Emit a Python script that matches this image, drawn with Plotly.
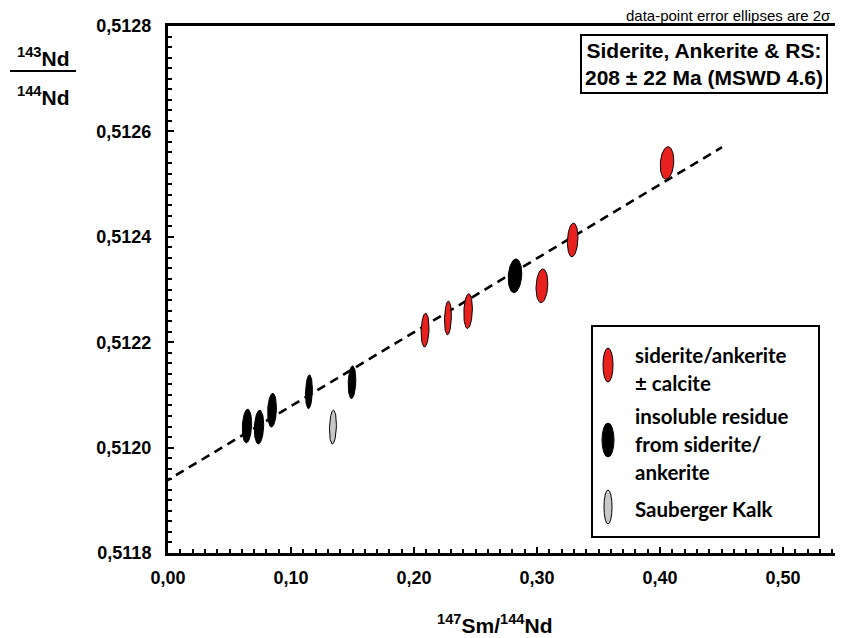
import numpy as np
import plotly.graph_objects as go

# ---- data ----
red_x = [0.209, 0.2276, 0.244, 0.304, 0.329, 0.4057]
red_y = [0.512223, 0.512246, 0.512259, 0.512307, 0.512394, 0.512540]
red_sx = [0.0032, 0.0028, 0.0035, 0.0048, 0.0043, 0.0055]
red_sy = [0.000032, 0.000032, 0.000033, 0.000032, 0.000032, 0.000031]

blk_x = [0.0642, 0.0740, 0.0846, 0.1146, 0.1496, 0.2821]
blk_y = [0.512041, 0.512039, 0.512071, 0.512106, 0.512124, 0.512326]
blk_sx = [0.0038, 0.0038, 0.0036, 0.0028, 0.0031, 0.0055]
blk_sy = [0.000032, 0.000032, 0.000032, 0.000032, 0.000031, 0.000032]

gry_x = [0.1341]
gry_y = [0.512039]
gry_sx = [0.0028]
gry_sy = [0.000032]

iso_x = [-0.004, 0.4504]
iso_y = [0.511933, 0.512570]

x_ticks = [0.0, 0.1, 0.2, 0.3, 0.4, 0.5]
y_ticks = [0.5118, 0.5120, 0.5122, 0.5124, 0.5126, 0.5128]

FONT = "Liberation Sans"
LEG_FONT = "Lato"

fig = go.Figure()

# isochron line
fig.add_trace(go.Scatter(x=iso_x, y=iso_y, mode="lines",
                         line=dict(color="black", width=2.6, dash="9px,6px"),
                         showlegend=False, hoverinfo="skip", cliponaxis=False))

t = np.linspace(0, 2 * np.pi, 60)
rho = 0.15

def add_ellipses(xs, ys, sxs, sys_, fill):
    for cx, cy, sx, sy in zip(xs, ys, sxs, sys_):
        ex = cx + sx * np.cos(t)
        ey = cy + sy * (rho * np.cos(t) + np.sqrt(1 - rho ** 2) * np.sin(t))
        fig.add_trace(go.Scatter(x=ex, y=ey, mode="lines", fill="toself",
                                 fillcolor=fill, line=dict(color="black", width=1),
                                 showlegend=False, hoverinfo="skip"))

add_ellipses(red_x, red_y, red_sx, red_sy, "#e8211f")
add_ellipses(blk_x, blk_y, blk_sx, blk_sy, "#000000")
add_ellipses(gry_x, gry_y, gry_sx, gry_sy, "#c8c8c8")

# page offset (body margin of 8px) compensation
OFF = 8
W, H = 843 - OFF, 638 - OFF
L, R, T, B = 168, 843, 26, 553
PW, PH = R - L, B - T

def px(xp):
    return (xp - L) / PW

def py(yp):
    return (B - yp) / PH

annotations = []
shapes = []

# y-axis title as fraction
for yy, txt in [(57, "<sup>143</sup>Nd"), (96, "<sup>144</sup>Nd")]:
    annotations.append(dict(text=txt, x=px(43), y=py(yy), xref="paper", yref="paper",
                            showarrow=False, font=dict(family=FONT, size=21, color="black", weight="bold"),
                            xanchor="center", yanchor="middle"))
shapes.append(dict(type="line", xref="paper", yref="paper", x0=px(10), x1=px(76), y0=py(71), y1=py(71),
                   line=dict(color="black", width=2)))

# x-axis title
annotations.append(dict(text="<sup>147</sup>Sm/<sup>144</sup>Nd", x=px(495), y=py(624), xref="paper", yref="paper",
                        showarrow=False, font=dict(family="Liberation Sans Narrow, " + FONT, size=21,
                                                   color="black", weight="bold"),
                        xanchor="center", yanchor="middle"))

# note
annotations.append(dict(text="data-point error ellipses are 2σ", x=px(833), y=py(16), xref="paper", yref="paper",
                        showarrow=False, font=dict(family=FONT, size=15, color="black"),
                        xanchor="right", yanchor="middle"))

# age box
annotations.append(dict(text="Siderite, Ankerite &amp; RS:<br>208 ± 22 Ma (MSWD 4.6)",
                        x=px(704), y=py(64), xref="paper", yref="paper", showarrow=False,
                        font=dict(family=FONT, size=21, color="black", weight="bold"), align="center",
                        xanchor="center", yanchor="middle",
                        bordercolor="black", borderwidth=2, borderpad=3, bgcolor="white"))

# legend box
shapes.append(dict(type="rect", xref="paper", yref="paper", x0=px(592), x1=px(819), y0=py(537), y1=py(326),
                   line=dict(color="black", width=2), fillcolor="white", layer="below"))

leg_items = [(365, 5, "#e8211f"), (440, 6, "#000000"), (507, 4, "#c8c8c8")]
for cy, hw, col in leg_items:
    shapes.append(dict(type="circle", xref="paper", yref="paper",
                       x0=px(608 - hw), x1=px(608 + hw), y0=py(cy + 17), y1=py(cy - 17),
                       fillcolor=col, line=dict(color="black", width=1)))

leg_lines = [(355, "siderite/ankerite"), (383, "± calcite"), (416, "insoluble residue"),
             (444, "from siderite/"), (472, "ankerite"), (509, "Sauberger Kalk")]
for yy, txt in leg_lines:
    annotations.append(dict(text=txt, x=px(633), y=py(yy), xref="paper", yref="paper",
                            showarrow=False, font=dict(family=LEG_FONT, size=20.5, color="black", weight="bold"),
                            xanchor="left", yanchor="middle"))

fig.update_layout(
    width=W, height=H,
    margin=dict(l=L - OFF, r=W - (R - OFF), t=T - OFF, b=H - (B - OFF)),
    paper_bgcolor="white", plot_bgcolor="white",
    separators=", ",
    showlegend=False,
    annotations=annotations, shapes=shapes,
    xaxis=dict(range=[0, (R - L) / 1230], tickvals=x_ticks, tickformat=".2f",
               showgrid=False, zeroline=False, showline=True, linecolor="black", linewidth=3,
               mirror=True, ticks="inside", ticklen=6, tickwidth=1.5, tickcolor="black",
               minor=dict(dtick=0.01, tick0=0, ticks="inside", ticklen=4, tickwidth=1.5, tickcolor="black"),
               tickfont=dict(family=FONT, size=18, color="black", weight="bold"), ticklabelstandoff=6),
    yaxis=dict(range=[0.5118, 0.5128], tickvals=y_ticks, tickformat=".4f",
               showgrid=False, zeroline=False, showline=True, linecolor="black", linewidth=3,
               ticks="inside", ticklen=6, tickwidth=1.5, tickcolor="black",
               minor=dict(dtick=0.00002, tick0=0.5118, ticks="inside", ticklen=4, tickwidth=1.5, tickcolor="black"),
               tickfont=dict(family=FONT, size=18, color="black", weight="bold"), ticklabelstandoff=10),
)

fig.write_html("out.html")
